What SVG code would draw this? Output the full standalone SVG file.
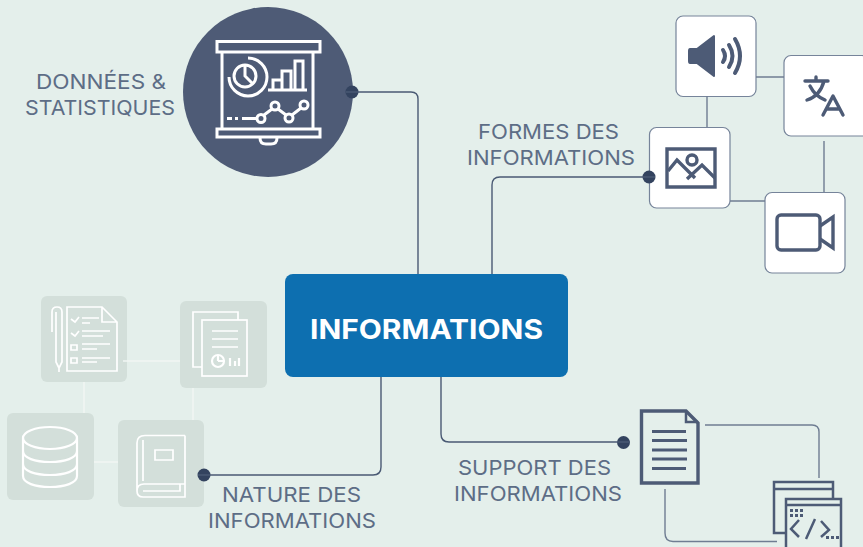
<svg xmlns="http://www.w3.org/2000/svg" width="863" height="547" viewBox="0 0 863 547">
<style>
.lbl{font-family:"Inter","Liberation Sans",sans-serif;font-size:20px;font-weight:400;fill:#5d6d86}
.con{fill:none;stroke:#4a5a74;stroke-width:1.4}
.lnk{fill:none;stroke:#6f7d92;stroke-width:1.4}
.soft{fill:none;stroke:#f1f6f4;stroke-width:1.5}
.dot{fill:#33435f}
.card{fill:#fff;stroke:#76849a;stroke-width:1.2}
.pale{fill:#d3dfda}
.ic{fill:none;stroke:#4d5b76;stroke-width:3.400;stroke-linejoin:miter}
.icr{fill:none;stroke:#4d5b76;stroke-width:3.400;stroke-linecap:round;stroke-linejoin:round}
.w{fill:none;stroke:#fff;stroke-width:3}
.w2{fill:none;stroke:#fff;stroke-width:1.7}
.w3{fill:none;stroke:#fff;stroke-width:2.200}
.th{stroke-width:2.500}
.wv{stroke-width:4}
</style>
<rect width="863" height="547" fill="#e4efeb"/>
<g id="stats">
<circle cx="268" cy="92" r="85" fill="#4e5b76"/>
<path class="w" d="M217 41.500H320V52H217ZM222 52V129M313 52V129M217 129H320V137H217ZM260 138Q260 144 266 144H271Q277 144 277 138"/>
<circle cx="245" cy="76" r="11" class="w"/>
<path class="w" d="M245 65V76L253 84M248 58A19 19 0 1 1 229 77"/>
<path class="w" d="M268 90H307M273 90V80H282V90M282 90V71H291V90M295 90V61H303V90"/>
<path class="w" d="M227 118.500H232M235 118.500H238M242 118.500H256"/>
<circle cx="261" cy="118.500" r="4" class="w"/><circle cx="275" cy="106" r="4" class="w"/><circle cx="289" cy="118" r="4" class="w"/><circle cx="304" cy="105" r="4" class="w"/>
<path class="w" d="M264 115L272 109M278 109L286 115M292 115L301 108"/>
</g>
<g id="stats-dot"><circle class="dot" cx="352" cy="92" r="6.500"/></g>
<g id="label-stats">
<text class="lbl" x="101" y="89" text-anchor="middle" textLength="130" lengthAdjust="spacingAndGlyphs">DONNÉES &amp;</text>
<text class="lbl" x="100" y="115" text-anchor="middle" textLength="150" lengthAdjust="spacingAndGlyphs">STATISTIQUES</text>
</g>
<g id="center">
<rect x="285" y="274" width="283" height="103" rx="8" fill="#0d6fb0"/>
<text x="426.500" y="339" text-anchor="middle" font-family="Inter,'Liberation Sans',sans-serif" font-size="27" font-weight="700" fill="#fff" textLength="233" lengthAdjust="spacingAndGlyphs">INFORMATIONS</text>
</g>
<g id="audio">
<rect class="card" x="676" y="16" width="80" height="80.500" rx="7"/>
<path d="M690 49H697L714 36V76L697 63H690Q689 63 689 61V51Q689 49 690 49Z" fill="#4d5b76" stroke="#4d5b76" stroke-width="2" stroke-linejoin="round"/>
<path class="icr wv" d="M723 50Q727 56 723 62M729 45Q736 56 729 67M735 39Q745 56 735 73"/>
</g>
<g id="translate">
<rect class="card" x="784" y="55.500" width="85" height="80.500" rx="7"/>
<path class="icr" d="M805 81H828M816 77V81M824 81Q820 96 807 100M810 86Q815 96 825 100M823 115L833 96L843 115M827 109H839"/>
</g>
<g id="image">
<rect class="card" x="649.500" y="127.500" width="80.500" height="80.500" rx="7"/>
<path class="ic" d="M667 149H715V187H667Z"/>
<path class="ic" d="M668 171L677 160L695 178M687 179L702 165L715 178"/>
<circle class="ic" cx="692" cy="160" r="5"/>
</g>
<g id="image-dot"><circle class="dot" cx="649" cy="177" r="6.500"/></g>
<g id="video">
<rect class="card" x="765" y="192.500" width="80" height="80.500" rx="7"/>
<rect class="ic" x="777" y="215" width="43" height="35" rx="4"/>
<path class="ic" d="M820 226L833 217V248L820 239"/>
</g>
<g id="checklist">
<rect class="pale" x="41" y="296" width="86" height="86" rx="6"/>
<path class="w2" d="M67 307H102L117 322V371H67ZM102 307V322H117M52 332V312Q52 307 57 307Q62 307 62 312V362L59 368V372M59 368L56 362V312"/>
<path class="w2" d="M71 319L75 322L79 317M82 318H99M82 323H90M71 333L75 336L79 331M82 331H110M82 336H103M71 345H77V350H71ZM82 344H110M82 349H97M71 358H77V363H71ZM82 358H110M82 362H97"/>
</g>
<g id="report">
<rect class="pale" x="180" y="301" width="87" height="87" rx="6"/>
<path class="w2" d="M202 367H193V312H238V320"/>
<rect class="w2" x="202" y="320" width="45" height="56"/>
<path class="w2" d="M212 331H238M212 339H238M212 347H238"/>
<circle class="w3" cx="218" cy="361" r="6"/>
<path class="w3" d="M218 361V355M218 361H224M230 366V358M235 366V361M239 366V358"/>
</g>
<g id="database">
<rect class="pale" x="7" y="413" width="87" height="87" rx="6"/>
<ellipse class="w3" cx="50" cy="438" rx="27" ry="11"/>
<path class="w3" d="M23 438V476C23 483 35 487 50 487S77 483 77 476V438M23 451C23 458 35 462 50 462S77 458 77 451M23 464C23 471 35 475 50 475S77 471 77 464"/>
</g>
<g id="book">
<rect class="pale" x="118" y="420" width="86" height="87" rx="6"/>
<path class="w2" d="M185 435.500H145Q137 435.500 137 443V491Q137 497 143 497H185V435.500M137 491Q137 484 144 484H185M180 484V491H143M143 440V481M155 450H173V460H155Z"/>
</g>
<g id="book-dot"><circle class="dot" cx="204" cy="475" r="6.500"/></g>
<g id="document">
<path class="ic" d="M641.500 411H686L698 423V483H641.500Z"/>
<path class="ic th" d="M686 411V422H698"/>
<path d="M652 431.500H686M652 440.500H687M652 450H687M652 459H687M652 468.500H686" fill="none" stroke="#4d5b76" stroke-width="3"/>
</g>
<g id="document-dot"><circle class="dot" cx="623.500" cy="442.500" r="6.500"/></g>
<g id="code">
<path class="ic th" d="M785 533H774V482H833V499M774 489H833"/>
<path class="ic th" d="M786 547V499H841V547M786 505H841"/>
<path d="M790 509h3v3h-3zM795 509h3v3h-3zM800 509h3v3h-3zM790 514h3v3h-3zM795 514h3v3h-3zM800 514h3v3h-3zM826 536h3v3h-3zM831 536h3v3h-3zM836 536h3v3h-3z" fill="#4d5b76"/>
<path class="ic th" d="M799 520L791 529L799 537M806 539L815 519M821 521L829 530L821 537"/>
</g>
<g id="label-forms">
<text class="lbl" x="548.500" y="139" text-anchor="middle" textLength="141" lengthAdjust="spacingAndGlyphs">FORMES DES</text>
<text class="lbl" x="551" y="165" text-anchor="middle" textLength="168" lengthAdjust="spacingAndGlyphs">INFORMATIONS</text>
</g>
<g id="label-support">
<text class="lbl" x="534.500" y="475" text-anchor="middle" textLength="153" lengthAdjust="spacingAndGlyphs">SUPPORT DES</text>
<text class="lbl" x="538" y="501" text-anchor="middle" textLength="168" lengthAdjust="spacingAndGlyphs">INFORMATIONS</text>
</g>
<g id="label-nature">
<text class="lbl" x="291.500" y="502" text-anchor="middle" textLength="139" lengthAdjust="spacingAndGlyphs">NATURE DES</text>
<text class="lbl" x="292" y="528" text-anchor="middle" textLength="168" lengthAdjust="spacingAndGlyphs">INFORMATIONS</text>
</g>
<g id="connectors">
<path class="con" d="M346 92H411Q418 92 418 99V274"/>
<path class="con" d="M655 177H500Q492 177 492 185V274"/>
<path class="con" d="M198 475H373Q381 475 381 467V377"/>
<path class="con" d="M441 377V434Q441 442 449 442H630"/>
<path class="lnk" d="M707 96V127M756 77H784M824 141V192M730 201H765"/>
<path class="lnk" d="M705 425H812Q819 425 819 432V478M665 489V533Q665 541.500 673 541.500H777"/>
<path class="soft" d="M123 361H180M84 382V413M193 388V420M94 462H118"/>
</g>
</svg>
